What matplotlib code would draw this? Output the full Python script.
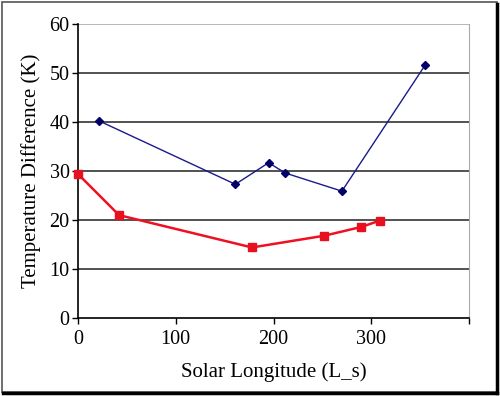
import matplotlib
matplotlib.use('Agg')
import matplotlib.pyplot as plt
from matplotlib.patches import Rectangle
from matplotlib.lines import Line2D

# values
blue_ls = [21, 161, 195, 212, 270, 355]
blue_dt = [40.3, 27.3, 31.7, 29.6, 25.9, 51.6]

red_ls = [0, 42, 178, 252, 290, 309]
red_dt = [29.4, 21.0, 14.4, 16.8, 18.6, 19.9]

x_ticks = [0, 100, 200, 300, 400]
x_labels = ['0', '100', '200', '300', '']
y_ticks = [0, 10, 20, 30, 40, 50, 60]

plt.rcParams['font.family'] = ['Liberation Serif', 'DejaVu Serif']

fig = plt.figure(figsize=(5, 3.96), dpi=100)
ax = fig.add_axes([0.156, 0.197, 0.782, 0.742])

# gridlines like excel
for y in y_ticks[1:-1]:
    ax.axhline(y, color='#333333', lw=1.2, zorder=1)
ax.axhline(60, color='#aaaaaa', lw=1.2, zorder=1)

ax.plot(blue_ls, blue_dt, color='#1a1a8c', lw=1, marker='D', ms=4.5,
        mfc='#000066', mec='#000066', zorder=3)
ax.plot(red_ls, red_dt, color='#ee1122', lw=1.8, marker='s', ms=5.5,
        mfc='#e8101e', mec='#e8101e', zorder=3, clip_on=False)

ax.set_xlim(0, 400)
ax.set_ylim(0, 60)
ax.set_xticks(x_ticks)
ax.set_xticklabels(x_labels)
ax.set_yticks(y_ticks)
ax.tick_params(labelsize=14.5, length=4, width=1, color='black', pad=2)
ax.tick_params(axis='x', pad=5)

ax.spines['top'].set_visible(False)
ax.spines['right'].set_color('#aaaaaa')
ax.spines['left'].set_linewidth(1.2)
ax.spines['bottom'].set_linewidth(1.2)

ax.set_xlabel('Solar Longitude (L_s)', fontsize=15, labelpad=9)
ax.set_ylabel('Temperature Difference (K)', fontsize=15, labelpad=6)

# outer frame with shadow
fig.patches.append(Rectangle((0.003, 0.009), 0.99, 0.985, transform=fig.transFigure,
                             fill=False, ec='#555555', lw=1.2))
fig.lines.append(Line2D([0.006, 0.994], [0.008, 0.008], transform=fig.transFigure,
                        color='black', lw=2.5))
fig.lines.append(Line2D([0.994, 0.994], [0.008, 0.99], transform=fig.transFigure,
                        color='black', lw=2.5))

fig.savefig('out.png', dpi=100)
